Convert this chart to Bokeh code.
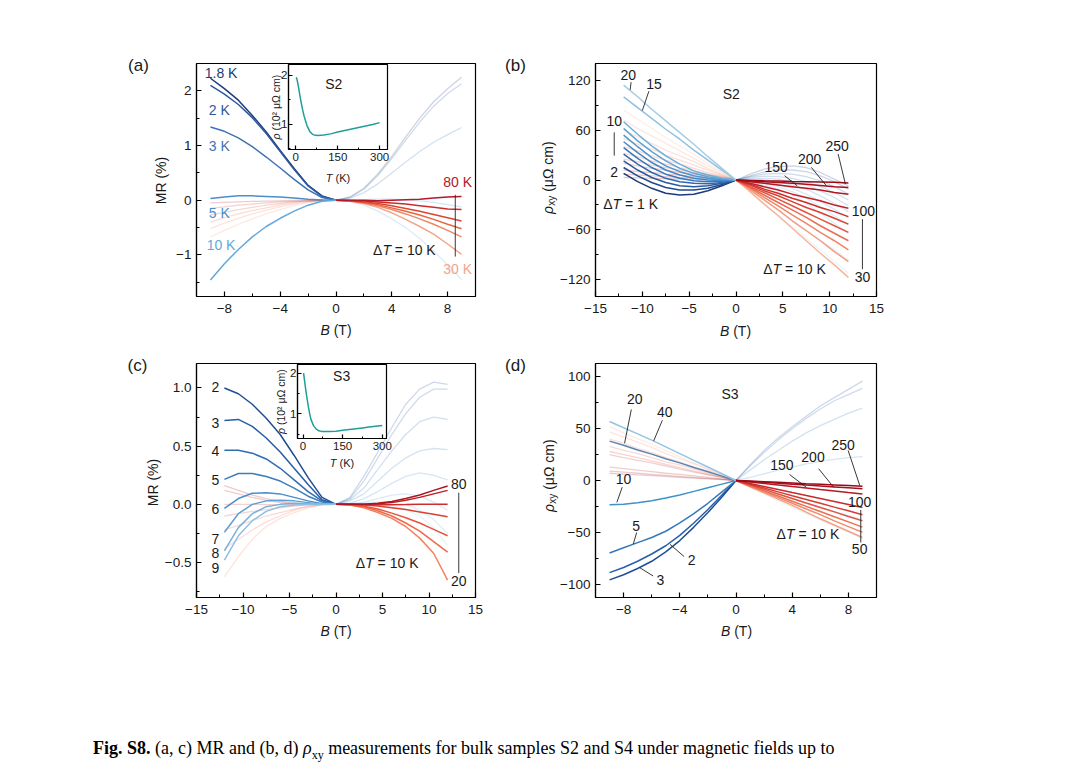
import math

from bokeh.embed import file_html
from bokeh.layouts import column, row
from bokeh.models import Div, FixedTicker, Label, Range1d, Spacer
from bokeh.plotting import figure
from bokeh.resources import INLINE

FONT = "Liberation Sans"
INK = "#1a1a1a"

# ---------------- data ----------------
# (a) S2, MR (%) vs B (T)
b_a = [-9, -8, -7, -6, -5, -4, -3, -2, -1, 0, 1, 2, 3, 4, 5, 6, 7, 8, 9]
t_a_low = ["1.8 K", "2 K", "3 K", "5 K", "10 K"]
mr_a_low = [
    [2.23, 2.04, 1.83, 1.55, 1.25, 0.91, 0.58, 0.27, 0.08, 0, 0.06, 0.22, 0.48, 0.80, 1.16, 1.50, 1.80, 2.04, 2.25],
    [2.10, 1.94, 1.75, 1.51, 1.22, 0.89, 0.56, 0.26, 0.07, 0, 0.05, 0.20, 0.45, 0.76, 1.10, 1.43, 1.72, 1.95, 2.13],
    [1.34, 1.26, 1.14, 0.98, 0.79, 0.59, 0.38, 0.19, 0.05, 0, 0.04, 0.14, 0.30, 0.50, 0.70, 0.89, 1.06, 1.20, 1.33],
    [0.03, 0.06, 0.08, 0.08, 0.07, 0.06, 0.04, 0.02, 0.005, 0, 0.0, 0.01, 0.02, 0.02, 0.01, -0.01, -0.04, -0.08, -0.12],
    [-1.46, -1.16, -0.90, -0.67, -0.48, -0.33, -0.20, -0.09, -0.02, 0, -0.02, -0.09, -0.20, -0.34, -0.50, -0.70, -0.93, -1.18, -1.45],
]
t_a_high = ["30 K", "40 K", "50 K", "60 K", "70 K", "80 K"]
mr_a_high = [
    [-0.67, -0.55, -0.44, -0.34, -0.25, -0.17, -0.10, -0.04, -0.01, 0, -0.02, -0.06, -0.13, -0.23, -0.35, -0.48, -0.62, -0.80, -0.99],
    [-0.52, -0.42, -0.33, -0.25, -0.18, -0.12, -0.07, -0.03, -0.01, 0, -0.01, -0.05, -0.10, -0.17, -0.25, -0.34, -0.44, -0.55, -0.67],
    [-0.40, -0.32, -0.25, -0.19, -0.14, -0.09, -0.05, -0.02, -0.005, 0, -0.01, -0.04, -0.08, -0.14, -0.20, -0.27, -0.35, -0.44, -0.52],
    [-0.27, -0.22, -0.17, -0.13, -0.09, -0.06, -0.03, -0.01, 0, 0, -0.01, -0.03, -0.06, -0.10, -0.15, -0.20, -0.26, -0.32, -0.38],
    [-0.15, -0.12, -0.09, -0.07, -0.05, -0.03, -0.02, -0.01, 0, 0, -0.005, -0.015, -0.03, -0.05, -0.07, -0.10, -0.13, -0.16, -0.17],
    [-0.05, -0.04, -0.03, -0.02, -0.015, -0.01, -0.005, 0, 0, 0, 0, 0, -0.01, 0.0, 0.01, 0.02, 0.04, 0.06, 0.07],
]

# insets: rho (10^2 uOhm cm) vs T (K)
t_inset = [2, 5, 10, 15, 20, 25, 30, 40, 50, 60, 70, 80, 100, 125, 150, 175, 200, 225, 250, 275, 300]
rho_s2 = [1.96, 1.90, 1.75, 1.58, 1.42, 1.28, 1.16, 0.97, 0.85, 0.79, 0.77, 0.765, 0.775, 0.80, 0.84, 0.87, 0.90, 0.93, 0.96, 0.99, 1.03]
rho_s3 = [2.00, 1.85, 1.60, 1.38, 1.18, 1.00, 0.86, 0.70, 0.62, 0.58, 0.565, 0.56, 0.56, 0.57, 0.59, 0.61, 0.63, 0.65, 0.67, 0.69, 0.71]

# (b) S2, rho_xy (uOhm cm) vs B (T)
b_b = [-12, -10.5, -9, -7.5, -6, -4.5, -3, -1.5, 0, 1.5, 3, 4.5, 6, 7.5, 9, 10.5, 12]
t_b_low = [2, 3, 4, 5, 6, 7, 8, 9, 10, 15, 20]
rxy_b_low = [
    [8, -2, -10, -16, -18, -17, -13, -7, 0, 7, 13, 16, 17, 15, 9, 1, -7],
    [15, 5, -3, -9, -12, -12, -10, -5.5, 0, 5, 9.5, 12, 12, 10, 5, -2, -11],
    [23, 12, 3, -3, -7, -8, -7, -4, 0, 4, 7, 8, 7, 4, -1, -8, -17],
    [31, 19, 9, 2, -2, -4, -4.5, -3, 0, 3, 4.5, 4, 2, -2, -8, -15, -24],
    [39, 26, 15, 7, 2, -1, -2, -1.5, 0, 1.5, 2, 1, -2, -6, -13, -21, -31],
    [46, 33, 21, 12, 6, 2, 0, -0.5, 0, 0.5, 0, -2, -6, -11, -19, -28, -38],
    [54, 40, 27, 17, 10, 5, 2, 0.5, 0, -0.5, -2, -5, -10, -17, -26, -35, -46],
    [62, 47, 34, 23, 14, 8, 4, 1.5, 0, -1.5, -4, -8, -14, -22, -32, -43, -54],
    [70, 55, 41, 29, 19, 11, 6, 2.5, 0, -2.5, -6, -11, -18, -28, -40, -52, -64],
    [100, 87, 74, 61, 49, 36, 24, 12, 0, -12, -24, -36, -48, -60, -72, -84, -96],
    [114, 100, 85, 71, 57, 43, 28, 14, 0, -14, -28, -42, -56, -70, -84, -98, -112],
]
t_b_high = [30, 40, 50, 60, 70, 80, 90, 100, 150, 200, 250]
rxy_b_high = [
    [84, 73, 62, 51, 41, 31, 20, 10, 0, -14, -29, -43, -58, -73, -88, -102, -117],
    [72, 62, 53, 44, 35, 26, 17, 9, 0, -12, -24, -36, -49, -61, -73, -86, -98],
    [60, 52, 44, 36, 29, 22, 14, 7, 0, -10, -21, -31, -42, -52, -63, -73, -84],
    [50, 43, 37, 30, 24, 18, 12, 6, 0, -9, -18, -27, -36, -45, -55, -64, -73],
    [40, 35, 29, 24, 19, 14, 9, 5, 0, -8, -15, -23, -31, -39, -47, -55, -63],
    [32, 28, 23, 19, 15, 11, 7, 4, 0, -6, -13, -19, -26, -33, -39, -46, -53],
    [25, 22, 18, 15, 12, 9, 6, 3, 0, -5, -11, -16, -22, -27, -33, -38, -44],
    [20, 17, 14, 12, 9, 7, 5, 2, 0, -4, -8, -12, -17, -21, -25, -30, -34],
    [12, 10, 9, 7, 6, 4, 3, 1, 0, -2, -4, -6, -8, -10, -12, -15, -17],
    [7, 6, 5, 4, 3, 2.5, 1.5, 1, 0, -1, -2, -3, -4, -5, -6.5, -8, -9],
    [3, 2.5, 2, 1.5, 1.2, 1, 0.5, 0.3, 0, -0.5, -1, -1.3, -1.7, -2, -2.4, -2.8, -3.5],
]

# (c) S3, MR (%) vs B (T)
b_c = [-12, -10.5, -9, -7.5, -6, -4.5, -3, -1.5, 0, 1.5, 3, 4.5, 6, 7.5, 9, 10.5, 12]
t_c_low = ["2", "3", "4", "5", "6", "7", "8", "9"]
mr_c_low = [
    [1.0, 0.95, 0.86, 0.74, 0.60, 0.42, 0.23, 0.06, 0, 0.06, 0.24, 0.45, 0.66, 0.86, 0.99, 1.05, 1.03],
    [0.72, 0.73, 0.67, 0.57, 0.45, 0.31, 0.17, 0.04, 0, 0.05, 0.20, 0.40, 0.60, 0.78, 0.92, 0.99, 0.99],
    [0.465, 0.465, 0.44, 0.39, 0.31, 0.21, 0.11, 0.03, 0, 0.04, 0.14, 0.30, 0.46, 0.60, 0.71, 0.75, 0.73],
    [0.215, 0.265, 0.265, 0.24, 0.20, 0.14, 0.07, 0.02, 0, 0.03, 0.09, 0.20, 0.31, 0.40, 0.46, 0.48, 0.47],
    [-0.035, 0.05, 0.095, 0.10, 0.09, 0.06, 0.03, 0.005, 0, 0.01, 0.05, 0.11, 0.18, 0.24, 0.27, 0.25, 0.21],
    [-0.24, -0.08, 0.0, 0.03, 0.035, 0.03, 0.015, 0.0, 0, 0.005, 0.02, 0.05, 0.08, 0.09, 0.07, 0.02, -0.05],
    [-0.40, -0.20, -0.08, -0.02, 0.0, 0.01, 0.005, 0.0, 0, 0.0, 0.01, 0.02, 0.02, 0.0, -0.05, -0.13, -0.25],
    [-0.48, -0.27, -0.14, -0.06, -0.02, -0.005, 0.0, 0.0, 0, 0.0, 0.0, 0.0, -0.01, -0.04, -0.10, -0.20, -0.35],
]
t_c_high = [20, 30, 40, 50, 60, 70, 80]
mr_c_high = [
    [-0.62, -0.45, -0.30, -0.19, -0.12, -0.07, -0.03, -0.005, 0, -0.005, -0.03, -0.07, -0.12, -0.19, -0.29, -0.42, -0.65],
    [-0.38, -0.30, -0.22, -0.15, -0.10, -0.05, -0.02, -0.005, 0, -0.005, -0.02, -0.055, -0.10, -0.16, -0.23, -0.32, -0.41],
    [-0.22, -0.18, -0.14, -0.10, -0.07, -0.04, -0.015, -0.003, 0, -0.003, -0.015, -0.04, -0.075, -0.115, -0.16, -0.215, -0.27],
    [-0.10, -0.08, -0.06, -0.045, -0.03, -0.015, -0.005, 0, 0, 0, -0.005, -0.015, -0.03, -0.045, -0.065, -0.085, -0.106],
    [0.0, 0.0, 0.0, -0.002, -0.003, -0.003, -0.002, 0, 0, 0, -0.002, -0.003, -0.003, -0.002, 0, 0, 0.0],
    [0.12, 0.09, 0.06, 0.035, 0.015, 0.005, 0, 0, 0, 0, 0, 0.005, 0.015, 0.035, 0.06, 0.09, 0.12],
    [0.16, 0.12, 0.08, 0.05, 0.025, 0.01, 0, 0, 0, 0, 0, 0.01, 0.025, 0.05, 0.08, 0.12, 0.158],
]

# (d) S3, rho_xy (uOhm cm) vs B (T)
b_d = [-9, -8, -7, -6, -5, -4, -3, -2, -1, 0, 1, 2, 3, 4, 5, 6, 7, 8, 9]
t_d_low = [2, 3, 5, 10, 20, 40]
rxy_d_low = [
    [-89, -84, -78, -71, -63, -53, -41, -28, -14, 0, 14, 27, 39, 50, 60, 69, 77, 83, 89],
    [-96, -91, -85, -78, -69, -58, -45, -31, -16, 0, 15, 29, 41, 52, 62, 72, 80, 88, 96],
    [-70, -65, -60, -55, -49, -41, -32, -22, -11, 0, 10, 20, 29, 38, 46, 53, 59, 65, 70],
    [-23.5, -23, -21.5, -19.5, -17, -14, -10.5, -7, -3.5, 0, 3, 6.5, 10, 13, 16, 18.5, 20.5, 22, 23],
    [38, 34, 29.5, 25.5, 21, 17, 12.5, 8.5, 4.2, 0, -4.5, -9, -13, -17.5, -22, -26, -30, -34, -38],
    [57, 51, 45, 39, 32.5, 26, 19.5, 13, 6.5, 0, -6.5, -13, -19.5, -26, -32, -38, -44, -50, -56],
]
t_d_high = [50, 60, 70, 80, 90, 100, 150, 200, 250]
rxy_d_high = [
    [52, 46, 40.5, 35, 29, 23, 17, 11.5, 6, 0, -6, -12, -18, -24, -30.5, -37, -43, -49, -55],
    [47, 42, 37, 32, 26, 21, 16, 10.5, 5, 0, -5.5, -11, -16.5, -22, -27.5, -33, -39, -44.5, -50],
    [40, 36, 31, 27, 22, 18, 13, 9, 4.5, 0, -5, -10, -15, -20, -25, -30, -35, -40, -45],
    [33, 29, 26, 22, 18, 15, 11, 7, 3.5, 0, -4.3, -8.6, -13, -17.3, -21.7, -26, -30.3, -34.7, -39],
    [28, 25, 22, 19, 15.5, 12.5, 9, 6, 3, 0, -3.7, -7.3, -11, -14.7, -18.3, -22, -25.7, -29.3, -33],
    [25, 22, 19.5, 17, 14, 11, 8, 5.5, 3, 0, -2.9, -5.8, -8.7, -11.6, -14.4, -17.3, -20.2, -23.1, -26],
    [13, 11.5, 10, 8.5, 7, 6, 4.5, 3, 1.5, 0, -1.4, -2.9, -4.3, -5.8, -7.2, -8.7, -10.1, -11.6, -13],
    [9, 8, 7, 6, 5, 4, 3, 2, 1, 0, -0.9, -1.8, -2.7, -3.6, -4.4, -5.3, -6.2, -7.1, -8],
    [7, 6.2, 5.4, 4.7, 3.9, 3.1, 2.3, 1.6, 0.8, 0, -0.6, -1.2, -1.8, -2.4, -3.1, -3.7, -4.3, -4.9, -5.5],
]

# ---------------- colours ----------------
BLUE_A = ["#1d3c78", "#2b59a1", "#3d72b5", "#4a8fcb", "#62a8db"]
RED_A = ["#f3a588", "#f08564", "#e8653f", "#da4731", "#c92c2a", "#b3182b"]
BLUE_B = ["#1b3b7a", "#224a8e", "#2a5aa0", "#3068b0", "#3877bd", "#4286c7",
          "#4f95cf", "#5ea3d6", "#6db0dc", "#8ec1e2", "#a3cde6"]
RED_B = ["#f7b599", "#f59c7f", "#f08466", "#ea6c52", "#e25641", "#d84234",
         "#cd3029", "#c42126", "#b5161f", "#a8101b", "#9a0a16"]
BLUE_C = ["#1f4e96", "#265da5", "#2f6db3", "#3a7ec0", "#4a8fcb", "#5ea0d4", "#76b1dc", "#8fc0e3"]
RED_C = ["#f4825f", "#ee6a4d", "#e4553f", "#d84234", "#ca2f2b", "#bb2026", "#ab1522"]
BLUE_D = ["#2560ab", "#1e4f96", "#3579bb", "#3d93c6", "#5a86b5", "#93c4e3"]
RED_D = ["#f6a283", "#f28a6b", "#eb6f53", "#e2553f", "#d63c31", "#c92a2a", "#b51a22", "#a8101c", "#990a16"]
TEAL = "#1f9e99"

WIDTH = {" ": 278, "(": 333, ")": 333, ".": 278, "B": 667, "T": 611, "K": 667,
         "S": 667, "M": 833, "R": 722, "%": 889, "Δ": 668, "=": 584, "x": 500,
         "y": 500, "ρ": 578, "μ": 577, "Ω": 768, "c": 500, "m": 833, "²": 333}


def text_width(s, size):
    return sum(WIDTH.get(ch, 556) for ch in s) * size / 1000.0


def rich(p, x, y, parts, size=14, color=INK, angle=0.0, dx=0.0, dy=0.0):
    # parts: (text, italic[, scale, shift]) laid out one after another, centred on (x, y)
    parts = [pt if len(pt) == 4 else (pt[0], pt[1], 1.0, 0.0) for pt in parts]
    widths = [text_width(t, size * k) for t, _, k, _ in parts]
    pos = -sum(widths) / 2.0
    for (t, italic, k, shift), w in zip(parts, widths):
        lead = text_width(t[:len(t) - len(t.lstrip(" "))], size * k)
        if angle:
            xo, yo = dx + shift, dy + pos + lead
        else:
            xo, yo = dx + pos + lead, dy - shift
        p.add_layout(Label(x=x, y=y, x_offset=xo, y_offset=yo, text=t.strip(" "), angle=angle,
                           text_font=FONT, text_font_size="%.1fpx" % (size * k),
                           text_font_style="italic" if italic else "normal",
                           text_color=color, text_align="left", text_baseline="middle"))
        pos += w


def tag(p, x, y, s, color=INK, size=14):
    rich(p, x, y, [(s, False)], size=size, color=color)


def minus(v):
    return str(v).replace("-", "\u2212")


def panel(w, h, xr, yr, borders, xt, xm, yt, ym, ylab=None,
          size="13.5px", tick=(5, 3), standoff=(7, 5)):
    bl, br, bt, bb = borders
    p = figure(width=w, height=h, x_range=Range1d(*xr), y_range=Range1d(*yr),
               output_backend="svg", toolbar_location=None, tools="",
               min_border_left=bl, min_border_right=br,
               min_border_top=bt, min_border_bottom=bb)
    p.grid.visible = False
    p.outline_line_color = "black"
    p.outline_line_width = 1.2
    p.outline_line_alpha = 1.0
    p.background_fill_color = "white"
    p.border_fill_color = "white"
    p.xaxis.ticker = FixedTicker(ticks=xt, minor_ticks=xm)
    p.yaxis.ticker = FixedTicker(ticks=yt, minor_ticks=ym)
    for ax in list(p.xaxis) + list(p.yaxis):
        ax.axis_line_width = 1.2
        ax.major_tick_in, ax.major_tick_out = tick[0], 0
        ax.minor_tick_in, ax.minor_tick_out = tick[1], 0
        ax.major_tick_line_width = 1.2
        ax.minor_tick_line_width = 1.0
        ax.major_label_text_font = FONT
        ax.major_label_text_font_size = size
        ax.major_label_text_color = INK
    p.xaxis.major_label_standoff = standoff[0]
    p.yaxis.major_label_standoff = standoff[1]
    p.xaxis.major_label_overrides = {v: minus(v) for v in xt}
    p.yaxis.major_label_overrides = dict(zip(yt, ylab or [minus(v) for v in yt]))
    return p


def curves(p, b, groups):
    # each curve: one half strong, the mirrored half faded
    i0 = b.index(0)
    halves = {"left": slice(0, i0 + 1), "right": slice(i0, None)}
    for strong in (False, True):
        for rows, colors, side in groups:
            for ys, c in zip(rows, colors):
                for name, sl in halves.items():
                    if (name == side) == strong:
                        p.line(b[sl], ys[sl], line_color=c,
                               line_width=1.5 if strong else 1.3,
                               line_alpha=1.0 if strong else 0.22)


def leaders(p, x0, y0, x1, y1):
    p.segment(x0=x0, y0=y0, x1=x1, y1=y1, line_color="#222222", line_width=0.9)


def delta(p, x, y, rest):
    rich(p, x, y, [("Δ", False), ("T", True), (rest, False)])


def inset(w, h, xr, yr, borders, rho, name, name_xy):
    p = panel(w, h, xr, yr, borders, [0, 150, 300], [75, 225], [1, 2], [0.5, 1.5],
              size="11.5px", tick=(4, 2), standoff=(3, 1))
    p.border_fill_color = None
    p.line(t_inset, rho, line_color=TEAL, line_width=1.5)
    tag(p, name_xy[0], name_xy[1], name)
    return p


# ---------------- (a) ----------------
fa = panel(540, 340, (-10, 10), (-1.76, 2.5), (196, 65, 63, 44),
           [-8, -4, 0, 4, 8], [-10, -6, -2, 2, 6, 10], [-1, 0, 1, 2], [-1.5, -0.5, 0.5, 1.5])
curves(fa, b_a, [(mr_a_low, BLUE_A, "left"), (mr_a_high, RED_A, "right")])
for s, (x, y), c in zip(t_a_low, [(-8.24, 2.32), (-8.37, 1.65), (-8.37, 0.99), (-8.37, -0.225), (-8.24, -0.82)], BLUE_A):
    tag(fa, x, y, s, color=c)
tag(fa, 8.72, 0.335, t_a_high[-1], color=RED_A[-1])
tag(fa, 8.72, -1.25, t_a_high[0], color=RED_A[0])
leaders(fa, [8.55], [0.1], [8.55], [-1.03])
delta(fa, 4.9, -0.91, " = 10 K")

ins_a = inset(129, 122, (-26, 328), (0.48, 2.22), (22, 8, 1, 36), rho_s2, "S2", (136, 1.83))
box_a = row(Spacer(width=266, height=122), ins_a, margin=(63 - 340, 0, 340 - 63 - 122, 0))

# ---------------- (b) ----------------
fb = panel(540, 340, (-15, 15), (-140, 140), (55, 204, 63, 44),
           [-15, -10, -5, 0, 5, 10, 15], [-12.5, -7.5, -2.5, 2.5, 7.5, 12.5],
           [-120, -60, 0, 60, 120], [-90, -30, 30, 90])
curves(fb, b_b, [(rxy_b_low, BLUE_B, "left"), (rxy_b_high, RED_B, "right")])
tag(fb, -0.5, 103.6, "S2")
tag(fb, -11.5, 125.7, str(t_b_low[-1]))
tag(fb, -8.75, 115.7, str(t_b_low[-2]))
tag(fb, -13.0, 71.4, str(t_b_low[8]))
tag(fb, -13.0, 9.2, str(t_b_low[0]))
tag(fb, 4.29, 16, str(t_b_high[8]))
tag(fb, 7.86, 25.3, str(t_b_high[9]))
tag(fb, 10.8, 41.3, str(t_b_high[10]))
tag(fb, 13.6, -37, str(t_b_high[7]))
tag(fb, 13.5, -117, str(t_b_high[0]))
leaders(fb, [-11.2, -9.3, -13.0, 5.18, 8.04, 10.9, 13.5],
        [117.6, 106.7, 57.3, 5.2, 15.2, 31.3, -47],
        [-11.3, -10.0, -13.0, 6.54, 9.65, 11.68, 13.5],
        [108.4, 83.5, 29.3, -6.9, -6.9, -4.8, -107.2])
delta(fb, -11.25, -29, " = 1 K")
delta(fb, 6.25, -107, " = 10 K")

# ---------------- (c) ----------------
fc = panel(540, 307, (-15, 15), (-0.8, 1.21), (196, 65, 23, 50),
           [-15, -10, -5, 0, 5, 10, 15], [-12.5, -7.5, -2.5, 2.5, 7.5, 12.5],
           [-0.5, 0, 0.5, 1.0], [-0.75, -0.25, 0.25, 0.75],
           ylab=["\u22120.5", "0.0", "0.5", "1.0"])
curves(fc, b_c, [(mr_c_low, BLUE_C, "left"), (mr_c_high, RED_C, "right")])
for s, y in zip(t_c_low, [1.005, 0.703, 0.459, 0.207, -0.043, -0.295, -0.416, -0.546]):
    tag(fc, -12.96, y, s)
tag(fc, 13.2, 0.172, str(t_c_high[-1]))
tag(fc, 13.2, -0.655, str(t_c_high[0]))
leaders(fc, [13.2], [0.1], [13.2], [-0.59])
delta(fc, 5.5, -0.503, " = 10 K")

ins_c = inset(119, 112, (-21, 316), (0.39, 2.21), (22, 8, 1, 37), rho_s3, "S3", (146, 1.92))
box_c = row(Spacer(width=275, height=112), ins_c, margin=(23 - 307, 0, 307 - 23 - 112, 0))

# ---------------- (d) ----------------
fd = panel(540, 307, (-10, 10), (-113, 113), (55, 204, 23, 50),
           [-8, -4, 0, 4, 8], [-10, -6, -2, 2, 6, 10],
           [-100, -50, 0, 50, 100], [-75, -25, 25, 75])
curves(fd, b_d, [(rxy_d_low, BLUE_D, "left"), (rxy_d_high, RED_D, "right")])
tag(fd, -0.43, 84, "S3")
for i, (x, y) in zip([4, 5, 3, 2, 0, 1], [(-7.2, 78.3), (-5.07, 66.3), (-8.0, 1.6),
                                          (-7.1, -43.7), (-3.16, -77), (-5.38, -96.4)]):
    tag(fd, x, y, str(t_d_low[i]))
for i, (x, y) in zip([8, 7, 6, 5, 0], [(7.62, 34), (5.48, 22.6), (3.26, 14.6), (8.8, -21), (8.8, -66.3)]):
    tag(fd, x, y, str(t_d_high[i]))
leaders(fd, [-7.45, -5.24, -8.1, -7.07, -3.69, -5.9, 7.98, 5.88, 3.81, 8.88],
        [68.6, 58.2, -6.5, -50.2, -73.5, -92.2, 29.1, 11.4, 5.8, -28.4],
        [-7.93, -5.86, -8.48, -7.31, -4.71, -6.86, 8.81, 6.95, 5.0, 8.88],
        [36.0, 38.2, -21.1, -61.5, -61.5, -84.1, -4.9, -6.5, -6.5, -59.9])
delta(fd, 5.12, -51.7, " = 10 K")

# ---------------- page-level texts (outside the plot frames) ----------------
ov = figure(width=1080, height=775, x_range=Range1d(0, 1080), y_range=Range1d(775, 0),
            output_backend="svg", toolbar_location=None, tools="", title=None,
            x_axis_location=None, y_axis_location=None, min_border=0)
ov.grid.visible = False
ov.outline_line_color = None
ov.background_fill_color = None
ov.border_fill_color = None
ov.margin = (-775, 0, 0, 0)

for s, (x, y) in zip(["(a)", "(b)", "(c)", "(d)"], [(138, 65), (515, 65), (137, 365), (515, 365)]):
    tag(ov, x, y, s, size=17)
for x, y in [(335.5, 329), (735, 330), (335.5, 630), (736, 630)]:
    rich(ov, x, y, [("B", True), (" (T)", False)])
rich(ov, 160, 180, [("MR (%)", False)], angle=math.pi / 2)
rich(ov, 152, 482, [("MR (%)", False)], angle=math.pi / 2)
for x, y in [(547, 177), (548, 475)]:
    rich(ov, x, y, [("ρ", True), ("xy", False, 0.72, 4.0), (" (μΩ cm)", False)], angle=math.pi / 2)
for (x, y), (x2, y2) in [((275.5, 106.5), (337.5, 177)), ((280.5, 401), (341.5, 462))]:
    rich(ov, x, y, [("ρ", True), (" (10² μΩ cm)", False)], size=10.5, angle=math.pi / 2)
    rich(ov, x2, y2, [("T", True), (" (K)", False)], size=11)

caption = Div(
    text=('<div style="font-family:\'Liberation Serif\',serif;font-size:18px;line-height:20px;'
          'color:#000;white-space:nowrap;padding:91px 0 0 93px;">'
          '<b>Fig. S8.</b> (a, c) MR and (b, d) <i>ρ</i><sub style="font-size:12px;line-height:0">xy</sub> '
          'measurements for bulk samples S2 and S4 under magnetic fields up to</div>'),
    width=1080, height=128, margin=0)

page = column(row(column(fa, box_a), fb), row(column(fc, box_c), fd), caption, ov)
open("out.html", "w", encoding="utf-8").write(file_html(page, INLINE))
